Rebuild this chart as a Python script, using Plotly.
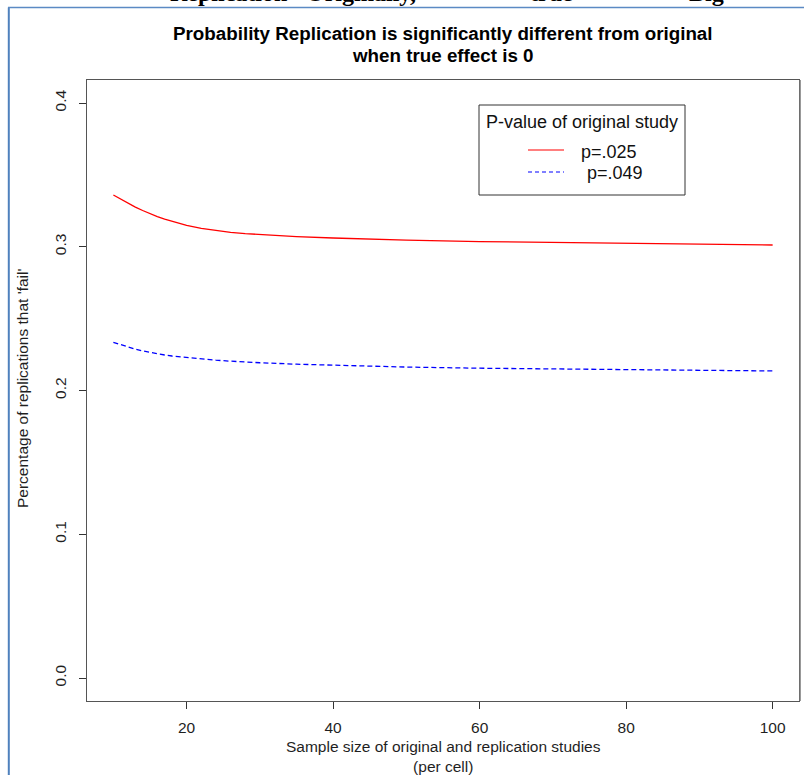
import plotly.graph_objects as go

# ---- data ----
sample_size = [10, 11, 12, 13, 14, 15, 16, 17, 18, 20, 22, 24, 26, 28, 30, 35, 40, 45, 50,
               60, 70, 80, 90, 100]
p025 = [0.3360, 0.3330, 0.3302, 0.3276, 0.3252, 0.3230, 0.3210, 0.3192, 0.3176, 0.3149,
        0.3128, 0.3112, 0.3100, 0.3091, 0.3084, 0.3071, 0.3061, 0.3053, 0.3046,
        0.3036, 0.3029, 0.3024, 0.3019, 0.3012]
p049 = [0.2335, 0.2318, 0.2302, 0.2288, 0.2275, 0.2264, 0.2255, 0.2247, 0.2240, 0.2229,
        0.2219, 0.2211, 0.2204, 0.2198, 0.2193, 0.2183, 0.2175, 0.2169, 0.2163,
        0.2155, 0.2149, 0.2143, 0.2138, 0.2136]
x_ticks = [20, 40, 60, 80, 100]
y_ticks = [0.0, 0.1, 0.2, 0.3, 0.4]
y_tick_labels = ["0.0", "0.1", "0.2", "0.3", "0.4"]
legend_title = "P-value of original study"
legend_labels = ["p=.025", "p=.049"]

W, H = 804, 775
L, R, T, B = 87, 5, 80, 74
PW, PH = W - L - R, H - T - B


def px(x):
    return (x - L) / PW


def py(y):
    return (H - B - y) / PH


TXT = "#1f1f1f"
FONT = "Liberation Sans, Arial, sans-serif"
fig = go.Figure()
fig.add_trace(go.Scatter(x=sample_size, y=p025, mode="lines", name=legend_labels[0],
                         line=dict(color="#ff0000", width=1.3)))
fig.add_trace(go.Scatter(x=sample_size, y=p049, mode="lines", name=legend_labels[1],
                         line=dict(color="#0000ff", width=1.3, dash="5px,3px")))

axis_common = dict(showgrid=False, zeroline=False, showline=True, mirror=True,
                   linecolor="#555555", linewidth=1, ticks="outside", ticklen=7,
                   tickcolor="#333333", tickfont=dict(family=FONT, size=15.5, color=TXT))

fig.update_xaxes(range=[6.4, 103.6], tickvals=x_ticks, ticklabelstandoff=5, **axis_common)
fig.update_yaxes(range=[-0.016, 0.416], tickvals=y_ticks, ticktext=y_tick_labels,
                 tickangle=-90, ticklabelstandoff=7, **axis_common)

fig.update_layout(
    width=W, height=H,
    margin=dict(l=L, r=R, t=T, b=B, pad=0),
    paper_bgcolor="white", plot_bgcolor="white",
    font=dict(family=FONT, color=TXT),
    showlegend=False,
)

# title
fig.add_annotation(text="<b>Probability Replication is significantly different from original</b>",
                   x=px(443), y=py(33), xref="paper", yref="paper", showarrow=False,
                   xanchor="center", yanchor="middle",
                   font=dict(family=FONT, size=18.8, color="#000000"))
fig.add_annotation(text="<b>when true effect is 0</b>",
                   x=px(443), y=py(55), xref="paper", yref="paper", showarrow=False,
                   xanchor="center", yanchor="middle",
                   font=dict(family=FONT, size=18.8, color="#000000"))
# axis titles
fig.add_annotation(text="Percentage of replications that 'fail'", x=px(22), y=py(389),
                   xref="paper", yref="paper", showarrow=False, textangle=-90,
                   xanchor="center", yanchor="middle", font=dict(size=15.5, color=TXT))
fig.add_annotation(text="Sample size of original and replication studies<br>(per cell)",
                   x=px(443), y=py(756.5), xref="paper", yref="paper", showarrow=False,
                   xanchor="center", yanchor="middle", font=dict(size=15.5, color=TXT))

# legend (drawn by hand to match the reference layout)
fig.add_shape(type="rect", xref="paper", yref="paper", x0=px(479), x1=px(685), y0=py(195), y1=py(105),
              line=dict(color="#333333", width=1), fillcolor="white")
fig.add_annotation(text=legend_title, x=px(582), y=py(122), xref="paper", yref="paper",
                   showarrow=False, xanchor="center", yanchor="middle",
                   font=dict(size=18, color="#111111"))
fig.add_shape(type="line", xref="paper", yref="paper", x0=px(528), x1=px(564), y0=py(150), y1=py(150),
              line=dict(color="#ff0000", width=1.2))
fig.add_shape(type="line", xref="paper", yref="paper", x0=px(528), x1=px(564), y0=py(172), y1=py(172),
              line=dict(color="#0000ff", width=1.2, dash="4px,3px"))
fig.add_annotation(text=legend_labels[0], x=px(579), y=py(152), xref="paper", yref="paper",
                   showarrow=False, xanchor="left", yanchor="middle", font=dict(size=18, color="#111111"))
fig.add_annotation(text=legend_labels[1], x=px(585), y=py(173), xref="paper", yref="paper",
                   showarrow=False, xanchor="left", yanchor="middle", font=dict(size=18, color="#111111"))

# right-edge shadow of the plot frame
fig.add_shape(type="line", xref="paper", yref="paper", x0=px(800), x1=px(800), y0=py(701), y1=py(80),
              line=dict(color="#777777", width=1.5))

# cut-off heading of the surrounding document (only the lowest part visible)
for word, xx in [("Replication", 168), ("Originally,", 304), ("true", 528), ("Big", 687)]:
    fig.add_annotation(text="<b>" + word + "</b>", x=px(xx), y=py(8), xref="paper", yref="paper",
                       showarrow=False, xanchor="left", yanchor="bottom",
                       font=dict(family="Liberation Serif, Times New Roman, serif", size=24, color="#000000"))

# document frame (blue border)
fig.add_shape(type="line", xref="paper", yref="paper", x0=px(8.8), x1=px(8.8), y0=py(775), y1=py(7.5),
              line=dict(color="#4F81BD", width=2))
fig.add_shape(type="line", xref="paper", yref="paper", x0=px(8), x1=px(804), y0=py(7.5), y1=py(7.5),
              line=dict(color="#5B8AC4", width=1.6))

fig.write_html("out.html", config={"displayModeBar": False},
               post_script="document.documentElement.style.margin='0';document.body.style.margin='0';document.body.style.padding='0';")
